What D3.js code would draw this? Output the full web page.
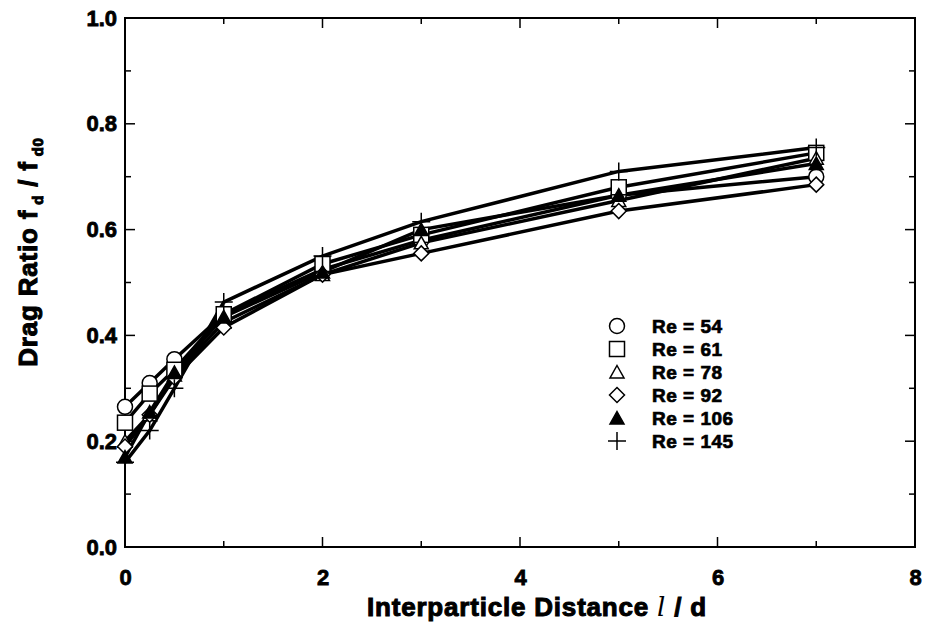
<!DOCTYPE html>
<html>
<head>
<meta charset="utf-8">
<script src="https://cdn.jsdelivr.net/npm/d3@7"></script>
<style>
  body { margin: 0; background: #fff; }
  text { font-family: "Liberation Sans", Arial, sans-serif; font-weight: bold; fill: #000; stroke: #000; }
</style>
</head>
<body>
<script>
"use strict";

// data
var distances = [0, 0.25, 0.5, 1, 2, 3, 5, 7];
var re54  = [0.265, 0.31, 0.355, 0.44, 0.525, 0.58, 0.665, 0.70];
var re61  = [0.235, 0.29, 0.335, 0.44, 0.535, 0.59, 0.68, 0.745];
var re78  = [0.20, 0.25, 0.325, 0.425, 0.515, 0.575, 0.655, 0.735];
var re92  = [0.19, 0.25, 0.32, 0.415, 0.515, 0.555, 0.635, 0.685];
var re106 = [0.17, 0.255, 0.33, 0.435, 0.52, 0.60, 0.665, 0.725];
var re145 = [0.16, 0.22, 0.30, 0.463, 0.55, 0.615, 0.71, 0.755];
var seriesNames = ['Re = 54', 'Re = 61', 'Re = 78', 'Re = 92', 'Re = 106', 'Re = 145'];
var seriesShapes = ['circle', 'square', 'triangle', 'diamond', 'triangleFilled', 'plus'];
var xTicks = [0, 2, 4, 6, 8];
var yTicks = [0, 0.2, 0.4, 0.6, 0.8, 1.0];

var series = [re54, re61, re78, re92, re106, re145].map((vals, i) => ({
  name: seriesNames[i],
  shape: seriesShapes[i],
  points: vals.map((v, j) => ({x: distances[j], y: v}))
}));

var width = 928, height = 626,
  margin = {top: 18, right: 13, bottom: 79, left: 125};

var svg = d3.select('body').append('svg')
  .attr('width', width)
  .attr('height', height);

var x = d3.scaleLinear().domain([0, 8]).range([margin.left, width - margin.right]);
var y = d3.scaleLinear().domain([0, 1]).range([height - margin.bottom, margin.top]);

// frame
svg.append('rect')
  .attr('x', x(0)).attr('y', y(1))
  .attr('width', x(8) - x(0)).attr('height', y(0) - y(1))
  .attr('fill', 'none').attr('stroke', '#000').attr('stroke-width', 2);

// inward ticks on all four sides
var xMinor = d3.range(0, 8.01, 1), yMinor = d3.range(0, 1.001, 0.1);
var ticks = svg.append('g').attr('stroke', '#000').attr('stroke-width', 1.5);
xMinor.forEach(v => {
  var len = (v % 2 === 0) ? 10 : 6;
  ticks.append('line').attr('x1', x(v)).attr('x2', x(v)).attr('y1', y(0)).attr('y2', y(0) - len);
  ticks.append('line').attr('x1', x(v)).attr('x2', x(v)).attr('y1', y(1)).attr('y2', y(1) + len);
});
yMinor.forEach((v, i) => {
  var len = (i % 2 === 0) ? 10 : 6;
  ticks.append('line').attr('x1', x(0)).attr('x2', x(0) + len).attr('y1', y(v)).attr('y2', y(v));
  ticks.append('line').attr('x1', x(8)).attr('x2', x(8) - len).attr('y1', y(v)).attr('y2', y(v));
});

// tick labels via axes
function styleTicks(sel) {
  sel.selectAll('text')
    .style('font-size', '22px')
    .style('font-family', '"Liberation Sans", Arial, sans-serif')
    .style('font-weight', 'bold')
    .attr('stroke', '#000').attr('stroke-width', 0.8);
}

var xAxis = svg.append('g')
  .attr('transform', `translate(0, ${y(0)})`)
  .call(d3.axisBottom(x).tickValues(xTicks).tickFormat(d3.format('d')).tickSize(0).tickPadding(22));
xAxis.select('.domain').remove();
styleTicks(xAxis);

var yAxis = svg.append('g')
  .attr('transform', `translate(${x(0)}, 0)`)
  .call(d3.axisLeft(y).tickValues(yTicks).tickFormat(d3.format('.1f')).tickSize(0).tickPadding(8));
yAxis.select('.domain').remove();
styleTicks(yAxis);

// axis titles
svg.append('text')
  .attr('x', 537)
  .attr('y', 616)
  .attr('text-anchor', 'middle')
  .attr('stroke-width', 1)
  .style('font-size', '26px')
  .style('letter-spacing', '0.8px')
  .html('Interparticle Distance <tspan style="font-family:DejaVu Serif;font-weight:normal;font-style:italic" stroke-width="0">l</tspan> / d');

var yt = svg.append('text')
  .attr('transform', `translate(37, 252) rotate(-90)`)
  .attr('text-anchor', 'middle')
  .attr('stroke-width', 1)
  .style('font-size', '26px')
  .style('letter-spacing', '0.8px');
yt.append('tspan').text('Drag Ratio f');
yt.append('tspan').attr('dy', 6).style('font-size', '15px').text(' d');
yt.append('tspan').attr('dy', -6).text('  / f');
yt.append('tspan').attr('dy', 6).style('font-size', '15px').text(' d0');

// lines
var line = d3.line().x(d => x(d.x)).y(d => y(d.y));
svg.append('g').selectAll('path').data(series).join('path')
  .attr('d', d => line(d.points))
  .attr('fill', 'none').attr('stroke', '#000').attr('stroke-width', 3.5);

// markers
function marker(g, shape) {
  if (shape === 'circle') {
    g.append('circle').attr('r', 7.5).attr('fill', '#fff').attr('stroke', '#000').attr('stroke-width', 1.5);
  } else if (shape === 'square') {
    g.append('rect').attr('x', -7.5).attr('y', -7.5).attr('width', 15).attr('height', 15)
      .attr('fill', '#fff').attr('stroke', '#000').attr('stroke-width', 1.5);
  } else if (shape === 'triangle' || shape === 'triangleFilled') {
    g.append('path').attr('d', 'M0,-6.5L7,6L-7,6Z')
      .attr('fill', shape === 'triangle' ? '#fff' : '#000').attr('stroke', '#000').attr('stroke-width', 1.5);
  } else if (shape === 'diamond') {
    g.append('path').attr('d', 'M0,-7.5L7.5,0L0,7.5L-7.5,0Z')
      .attr('fill', '#fff').attr('stroke', '#000').attr('stroke-width', 1.5);
  } else if (shape === 'plus') {
    g.append('path').attr('d', 'M-9,0H9M0,-9V9').attr('stroke', '#000').attr('stroke-width', 1.5);
  }
}

series.forEach(s => {
  s.points.forEach(p => {
    var g = svg.append('g').attr('transform', `translate(${x(p.x)}, ${y(p.y)})`);
    marker(g, s.shape);
  });
});

// legend
var legend = svg.append('g').attr('transform', 'translate(617, 326)');
series.forEach((s, i) => {
  var g = legend.append('g').attr('transform', `translate(0, ${i * 23})`);
  marker(g, s.shape);
  g.append('text').attr('x', 35).attr('y', 7)
    .attr('stroke-width', 0.7)
    .style('font-size', '19px')
    .style('letter-spacing', '0.5px')
    .text(s.name);
});
</script>
</body>
</html>
